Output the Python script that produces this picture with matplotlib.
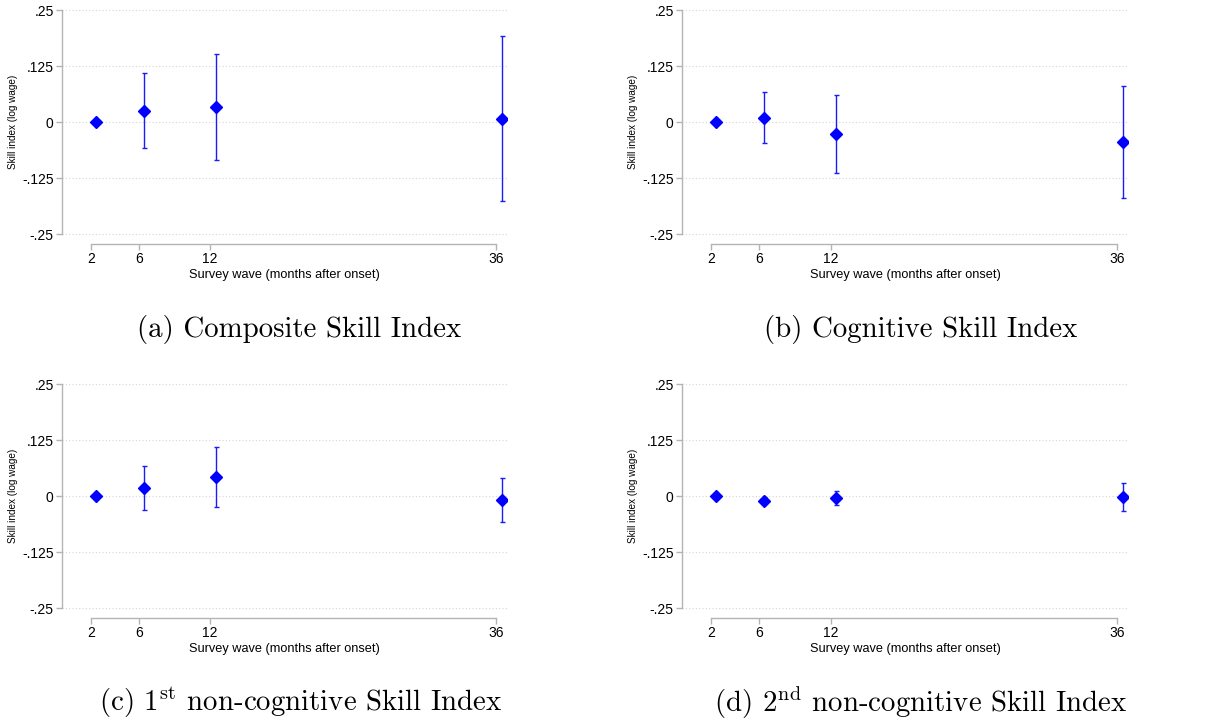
import matplotlib
matplotlib.use("Agg")
import matplotlib.pyplot as plt

plt.rcParams['font.family'] = ['Liberation Sans', 'DejaVu Sans']
plt.rcParams['mathtext.fontset'] = 'cm'

waves = [2, 6, 12, 36]
wave_labels = ["2", "6", "12", "36"]
yticks = [-0.25, -0.125, 0, 0.125, 0.25]
ytick_labels = ["-.25", "-.125", "0", ".125", ".25"]

# point estimates and 95% CI bounds
composite = [0.0, 0.0245, 0.0327, 0.0074]
composite_lo = [0.0, -0.0587, -0.0847, -0.177]
composite_hi = [0.0, 0.1085, 0.151, 0.193]

cognitive = [0.0, 0.0097, -0.0267, -0.0453]
cognitive_lo = [0.0, -0.0475, -0.1144, -0.170]
cognitive_hi = [0.0, 0.068, 0.061, 0.080]

noncog1 = [0.0, 0.0171, 0.0417, -0.0082]
noncog1_lo = [0.0, -0.032, -0.0253, -0.057]
noncog1_hi = [0.0, 0.066, 0.109, 0.041]

noncog2 = [0.0, -0.0104, -0.0045, -0.0022]
noncog2_lo = [0.0, -0.018, -0.021, -0.034]
noncog2_hi = [0.0, -0.003, 0.011, 0.029]

captions = ["(a) Composite Skill Index",
            "(b) Cognitive Skill Index",
            "(c) 1$^{\\rm st}$ non-cognitive Skill Index",
            "(d) 2$^{\\rm nd}$ non-cognitive Skill Index"]

panels = [(composite, composite_lo, composite_hi),
          (cognitive, cognitive_lo, cognitive_hi),
          (noncog1, noncog1_lo, noncog1_hi),
          (noncog2, noncog2_lo, noncog2_hi)]

offset = 0.45
W, H = 1224, 721
fig = plt.figure(figsize=(W / 100, H / 100), dpi=100)

# axes boxes in pixels: left, top, right, bottom
boxes = [(62, 10, 507, 234), (682, 10, 1128, 234),
         (62, 384, 507, 608), (682, 384, 1128, 608)]
cap_pos = [(299, 329), (921, 329), (301, 703), (921, 703)]

gray = "#b4b4b4"
for i, (est, lo, hi) in enumerate(panels):
    l, t, r, b = boxes[i]
    ax = fig.add_axes([l / W, 1 - b / H, (r - l) / W, (b - t) / H])
    xs = [w + offset for w in waves]
    err = [[e - a for e, a in zip(est, lo)], [h - e for e, h in zip(est, hi)]]
    ax.errorbar(xs, est, yerr=err, fmt='none', ecolor='#1a1aff',
                elinewidth=1.0, capsize=1.8, capthick=1.0, zorder=3)
    ax.plot(xs, est, 'D', color='#0000ff', markersize=6, zorder=4)

    ax.set_xlim(-0.43, 36.9)
    ax.set_ylim(-0.25, 0.25)
    ax.set_yticks(yticks)
    ax.set_yticklabels(ytick_labels)
    ax.set_xticks(waves)
    ax.set_xticklabels(wave_labels)
    for y in yticks:
        ax.axhline(y, color="#d6d6d6", lw=0.8, ls=(0, (1, 2)), zorder=1,
                   clip_on=False)

    for s in ['top', 'right']:
        ax.spines[s].set_visible(False)
    ax.spines['left'].set_color(gray)
    ax.spines['bottom'].set_color(gray)
    ax.spines['left'].set_linewidth(1.0)
    ax.spines['bottom'].set_linewidth(1.0)
    ax.spines['bottom'].set_position(('outward', 7))
    ax.spines['bottom'].set_bounds(2, 36)
    ax.tick_params(axis='both', colors=gray, length=4, width=1.0,
                   labelcolor='black', labelsize=10, pad=2)

    ax.set_xlabel("Survey wave (months after onset)", fontsize=9.2, labelpad=2)
    ax.set_ylabel("Skill index (log wage)", fontsize=7.2, labelpad=3)

    fig.text(cap_pos[i][0] / W, 1 - cap_pos[i][1] / H, captions[i],
             family='cmr10', fontsize=20.8, ha='center', va='center')

fig.savefig("out.png", dpi=100)
